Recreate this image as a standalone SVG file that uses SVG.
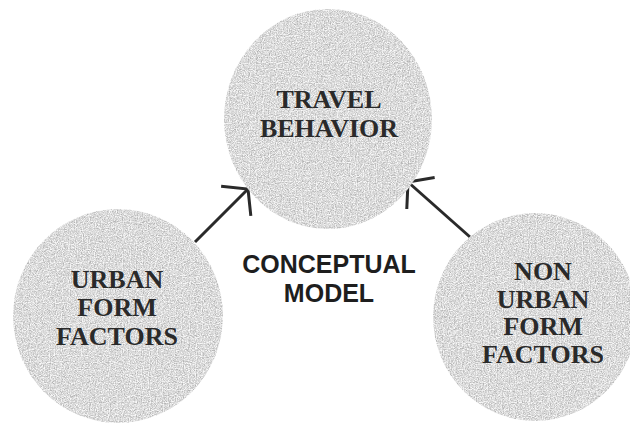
<svg xmlns="http://www.w3.org/2000/svg" width="630" height="424" viewBox="0 0 630 424">
<style>
.node{fill:#d4d4d4;}
.lbl{font-family:"Liberation Serif","Times New Roman",serif;font-weight:bold;font-size:26px;fill:#2a2a2a;text-anchor:middle;}
.title{font-family:"Liberation Sans",Arial,sans-serif;font-weight:bold;font-size:25px;fill:#1e1e1e;text-anchor:middle;}
.conn{stroke:#2a2a2a;stroke-width:3;fill:none;}
</style>
<defs>
<filter id="grain" x="0" y="0" width="100%" height="100%">
<feTurbulence type="fractalNoise" baseFrequency="0.85" numOctaves="2" seed="3" result="n"/>
<feColorMatrix in="n" type="matrix" values="0 0 0 0 0.45  0 0 0 0 0.45  0 0 0 0 0.45  3 0 0 0 -1.2" result="dark"/>
<feColorMatrix in="n" type="matrix" values="0 0 0 0 0.95  0 0 0 0 0.95  0 0 0 0 0.95  0 -3 0 0 1.8" result="light"/>
<feMerge result="m"><feMergeNode in="SourceGraphic"/><feMergeNode in="dark"/><feMergeNode in="light"/></feMerge>
<feComposite in="m" in2="SourceGraphic" operator="in"/>
</filter>
<marker id="open" markerUnits="userSpaceOnUse" markerWidth="40" markerHeight="50" refX="0" refY="0" viewBox="-20 -25 40 50" orient="auto" overflow="visible">
<path d="M-17,-21 L0,0 L-17,21" fill="none" stroke="#2a2a2a" stroke-width="3" stroke-linejoin="miter"/>
</marker>
</defs>
<rect width="630" height="424" fill="#ffffff"/>
<g id="connectors">
<line class="conn" x1="195" y1="242" x2="248" y2="189" marker-end="url(#open)"/>
<line class="conn" x1="470" y1="237" x2="408" y2="182" marker-end="url(#open)"/>
</g>
<g id="travel-behavior">
<ellipse class="node" cx="328" cy="119" rx="104" ry="110" filter="url(#grain)"/>
<text class="lbl" x="329" y="108">TRAVEL</text>
<text class="lbl" x="329" y="137">BEHAVIOR</text>
</g>
<g id="urban-form-factors">
<ellipse class="node" cx="118" cy="316" rx="105" ry="107" filter="url(#grain)"/>
<text class="lbl" x="117" y="288">URBAN</text>
<text class="lbl" x="117" y="316">FORM</text>
<text class="lbl" x="117" y="345">FACTORS</text>
</g>
<g id="non-urban-form-factors">
<ellipse class="node" cx="535" cy="317" rx="102" ry="104" filter="url(#grain)"/>
<text class="lbl" x="543" y="280">NON</text>
<text class="lbl" x="543" y="308">URBAN</text>
<text class="lbl" x="543" y="335">FORM</text>
<text class="lbl" x="543" y="363">FACTORS</text>
</g>
<g id="conceptual-model">
<text class="title" x="329" y="273">CONCEPTUAL</text>
<text class="title" x="329" y="302">MODEL</text>
</g>
</svg>
